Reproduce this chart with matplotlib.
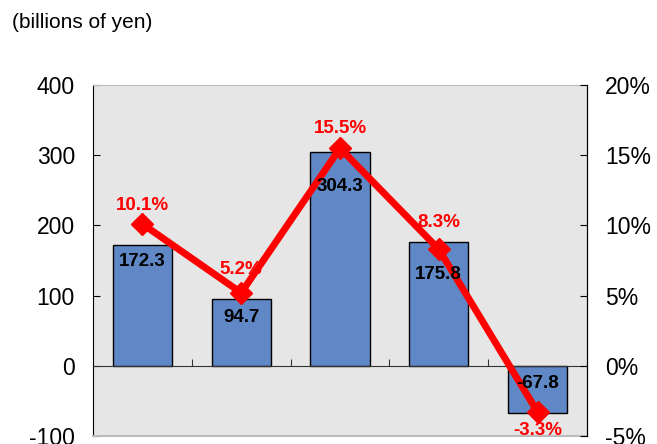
import matplotlib.pyplot as plt

plt.rcParams['font.family'] = ['Liberation Sans', 'DejaVu Sans']
plt.rcParams['axes.unicode_minus'] = False

# values
categories = ['1', '2', '3', '4', '5']
amounts = [172.3, 94.7, 304.3, 175.8, -67.8]        # billions of yen (bars)
growth = [10.1, 5.2, 15.5, 8.3, -3.3]                # % (line)
left_ticks = [-100, 0, 100, 200, 300, 400]
right_ticks = [-5, 0, 5, 10, 15, 20]

# label offsets in points (as placed in the original)
bar_label_off = [-12, -13, -24.5, -23, -13]
pct_label_off = [13, 16.5, 14.5, 19.5, -13]

fig = plt.figure(figsize=(6.57, 4.44), dpi=100)
ax = fig.add_axes([93/657, 1 - 436/444, (587 - 93)/657, (436 - 85)/444])
ax.set_facecolor('#E6E6E6')

x = list(range(len(categories)))
ax.bar(x, amounts, width=0.6, color='#6088C6', edgecolor='black', linewidth=1, zorder=2)
ax.set_xlim(-0.5, len(categories) - 0.5)
ax.set_ylim(-100, 400)
ax.set_yticks(left_ticks)
ax.tick_params(axis='y', direction='in', length=5, labelsize=16.5, pad=13)

# x axis drawn at zero with ticks between categories
ax.spines['bottom'].set_position(('data', 0))
ax.spines['bottom'].set_color('#333333')
ax.set_xticks([i + 0.5 for i in x[:-1]])
ax.set_xticklabels([])
ax.tick_params(axis='x', direction='in', length=5, color='#333333')
ax.spines['top'].set_color('#BBBBBB')
ax.axhline(-100, color='#BBBBBB', lw=1.5, clip_on=False, zorder=3)

ax2 = ax.twinx()
ax2.set_ylim(-5, 20)
ax2.set_yticks(right_ticks)
ax2.set_yticklabels([f'{t}%' for t in right_ticks])
ax2.tick_params(axis='y', direction='in', length=5, labelsize=16.5, pad=13)
for s in ['top', 'bottom', 'left']:
    ax2.spines[s].set_visible(False)
ax2.plot(x, growth, color='#FF0000', lw=5, marker='D', markersize=11, zorder=5)

# bar value labels drawn on top of the line
for xi, v, off in zip(x, amounts, bar_label_off):
    ax2.annotate(f'{v:.1f}', (xi, max(v, 0)), xycoords=ax.transData, xytext=(0, off),
                 textcoords='offset points', ha='center', va='center', fontsize=13.5,
                 fontweight='bold', color='black', zorder=7)

for xi, g, off in zip(x, growth, pct_label_off):
    ax2.annotate(f'{g:.1f}%', (xi, g), xytext=(0, off), textcoords='offset points',
                 ha='center', va='center', fontsize=13.5, fontweight='bold', color='#FF0000',
                 zorder=7)

fig.text(12/657, 1 - 22/444, '(billions of yen)', fontsize=15, ha='left', va='center')

fig.savefig('out.png', dpi=100)
